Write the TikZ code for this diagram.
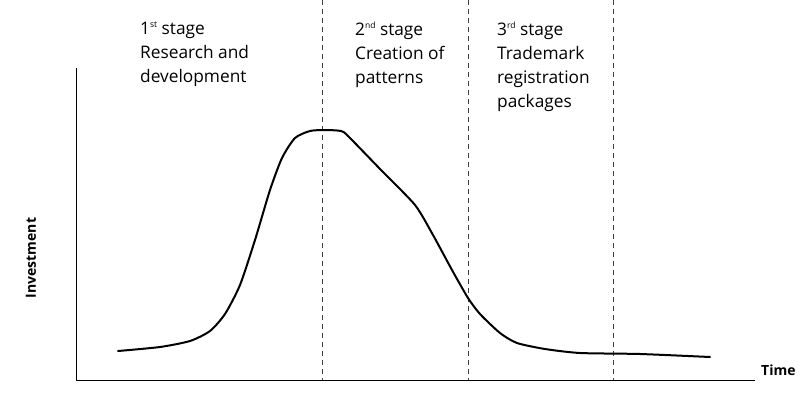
\documentclass[tikz,border=0pt]{standalone}
\usepackage{fontspec}
\setmainfont{Open Sans}
\newcommand\stagesup[1]{\raisebox{0.75ex}{\fontsize{8.5}{9}\selectfont #1}}
\begin{document}
\begin{tikzpicture}[x=1pt,y=-1pt,
  axis/.style={line width=1pt,black},
  divider/.style={line width=0.9pt,black!75,dash pattern=on 5pt off 4pt},
  curve/.style={line width=2pt,line join=round,line cap=round},
  stagetext/.style={anchor=north west,align=left,font=\fontsize{17.3}{24}\selectfont,inner sep=0pt},
  axislabel/.style={font=\bfseries\fontsize{14}{16}\selectfont,inner sep=0pt}]
\useasboundingbox (0,0) rectangle (810,404);
\coordinate (o) at (76,380);
\coordinate (ytop) at (76,68);
\coordinate (xend) at (755,380);
\draw[axis] (ytop) -- (o) -- (xend);
\foreach \n/\x in {a/322,b/468,c/613}{
  \coordinate (\n top) at (\x,0);
  \coordinate (\n bot) at (\x,380);
  \draw[divider] (\n top) -- (\n bot);
}
\draw[curve] plot[smooth,tension=0.4] coordinates {(118,351) (160,347) (190,341) (210,331) (225,314) (240,285) (255,240) (270,190) (282,158) (295,138) (310,131) (325,130) (341,131) (348,136) (381,170) (415,205) (433,235) (452,270) (468,298) (480,314) (500,333) (517,343) (545,349) (580,353) (640,354) (710,357)};
\node[stagetext] (s1) at (140,22) {1\stagesup{st} stage\\Research and\\development};
\node[stagetext] (s2) at (355,22) {2\stagesup{nd} stage\\Creation of\\patterns};
\node[stagetext] (s3) at (497,22) {3\stagesup{rd} stage\\Trademark\\registration\\packages};
\node[axislabel,rotate=90] (ylab) at (31,258) {Investment};
\node[axislabel,anchor=west] (xlab) at (761,370) {Time};
\end{tikzpicture}
\end{document}
